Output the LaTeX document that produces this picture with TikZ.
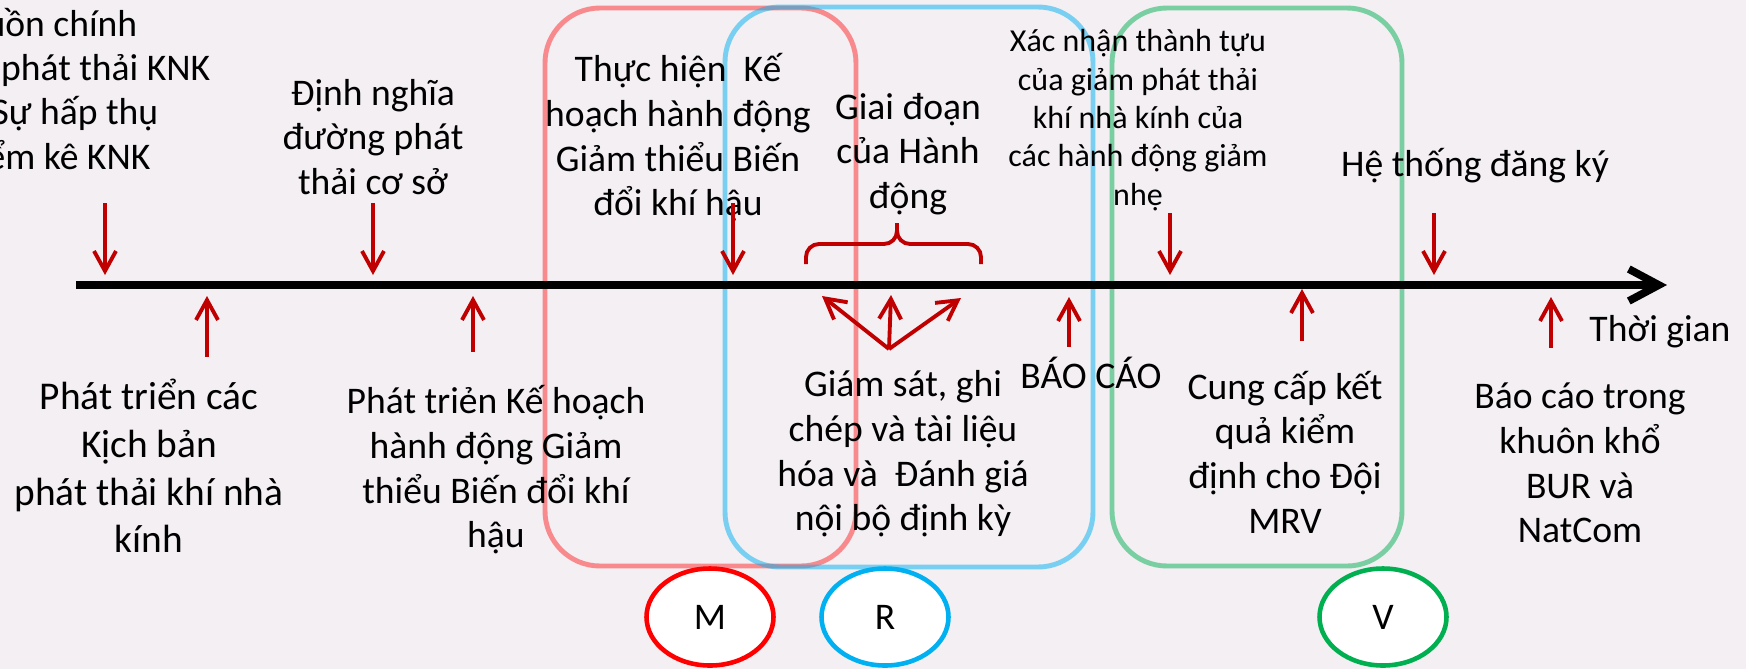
\documentclass[tikz,border=0pt]{standalone}
\usepackage{fontspec}
\setmainfont{Carlito}
\usetikzlibrary{arrows.meta,shapes.geometric}

\definecolor{fond}{RGB}{243,239,243}
\definecolor{rougef}{RGB}{192,0,0}
\definecolor{mrouge}{RGB}{255,0,0}
\definecolor{rbleu}{RGB}{0,176,240}
\definecolor{vvert}{RGB}{0,176,80}

\begin{document}
\begin{tikzpicture}[
  texte/.style={font=\fontsize{10.7}{12.7}\selectfont,align=center,inner sep=0pt},
  petit/.style={font=\fontsize{9.1}{10.9}\selectfont,align=center,inner sep=0pt},
  fleche/.style={rougef,line width=1.1pt,-{Straight Barb[length=2mm,width=2.2mm]}},
  cadre/.style={line width=1.4pt,rounded corners=5.5mm,draw opacity=0.5},
  lettre/.style={ellipse,draw,fill=white,line width=1.3pt,minimum width=1.27cm,
    minimum height=0.97cm,inner sep=0pt,font=\fontsize{10.7}{12.7}\selectfont}
]
  \useasboundingbox (0,0) rectangle (17.46,-6.69);
  \fill[fond] (0,0) rectangle (17.46,-6.69);

  % Les trois phases M, R, V
  \draw[cadre,mrouge,draw opacity=0.42] (5.45,-0.08) rectangle (8.56,-5.66);
  \draw[cadre,rbleu] (7.25,-0.07) rectangle (10.93,-5.67);
  \draw[cadre,vvert] (11.12,-0.08) rectangle (14.02,-5.66);

  % Axe du temps
  \coordinate (t0) at (0.76,-2.85);
  \coordinate (t1) at (16.67,-2.85);
  \draw[line width=2.2pt,-{Straight Barb[length=3mm,width=3.2mm]}] (t0) -- (t1);
  \node[texte] (thoigian) at (16.60,-3.32) {Thời gian};

  % Etapes au-dessus de l'axe
  \node[texte,anchor=base east] (nguon1) at (1.38,-0.36) {uồn chính};
  \node[texte,anchor=base east] (nguon2) at (2.11,-0.80) {phát thải KNK};
  \node[texte,anchor=base east] (nguon3) at (1.59,-1.24) {Sự hấp thụ};
  \node[texte,anchor=base east] (nguon4) at (1.51,-1.69) {ểm kê KNK};
  \node[texte] (dinhnghia) at (3.73,-1.37) {Định nghĩa\\đường phát\\thải cơ sở};
  \node[texte] (thuchien) at (6.78,-1.38) {Thực hiện\ \ Kế\\hoạch hành động\\Giảm thiểu Biến\\đổi khí hậu};
  \node[texte] (giaidoan) at (9.08,-1.54) {Giai đoạn\\của Hành\\động};
  \node[petit] (xacnhan) at (11.38,-1.20) {Xác nhận thành tựu\\của giảm phát thải\\khí nhà kính của\\các hành động giảm\\nhẹ};
  \node[texte] (dangky) at (14.75,-1.66) {Hệ thống đăng ký};

  % Etapes au-dessous de l'axe
  \node[texte,font=\fontsize{11.2}{13.6}\selectfont] (kichban) at (1.49,-4.66) {Phát triển các\\Kịch bản\\phát thải khí nhà\\kính};
  \node[texte] (kehoach) at (4.96,-4.70) {Phát triẻn Kế hoạch\\hành động Giảm\\thiểu Biến đổi khí\\hậu};
  \node[texte] (giamsat) at (9.03,-4.54) {Giám sát, ghi\\chép và tài liệu\\hóa và\ \ Đánh giá\\nội bộ định kỳ};
  \node[texte] (baocao) at (10.91,-3.73) {BÁO CÁO};
  \node[texte] (cungcap) at (12.85,-4.52) {Cung cấp kết\\quả kiểm\\định cho Đội\\MRV};
  \node[texte] (bur) at (15.80,-4.63) {Báo cáo trong\\khuôn khổ\\BUR và\\NatCom};

  % Flèches vers l'axe
  \foreach \nom/\x/\y in {h1/1.05/2.03, h2/3.73/2.03, h3/7.33/2.03, h4/11.70/2.13, h5/14.34/2.13}{
    \coordinate (\nom a) at (\x,-\y);
    \coordinate (\nom b) at (\x,-2.75);
    \draw[fleche] (\nom a) -- (\nom b);
  }
  \foreach \nom/\x/\y/\z in {b1/2.07/3.57/2.96, b2/4.73/3.52/2.96, b3/10.69/3.47/2.97,
      b4/13.02/3.41/2.89, b5/15.51/3.48/2.97}{
    \coordinate (\nom a) at (\x,-\y);
    \coordinate (\nom b) at (\x,-\z);
    \draw[fleche] (\nom a) -- (\nom b);
  }

  % Eventail de la phase d'action
  \coordinate (ev) at (8.89,-3.49);
  \coordinate (ev1) at (8.22,-2.96);
  \coordinate (ev2) at (8.91,-2.95);
  \coordinate (ev3) at (9.61,-2.98);
  \draw[fleche] (ev) -- (ev1);
  \draw[fleche] (ev) -- (ev2);
  \draw[fleche] (ev) -- (ev3);

  % Accolade
  \coordinate (acg) at (8.06,-2.64);
  \coordinate (acd) at (9.81,-2.64);
  \coordinate (acm) at (8.97,-2.23);
  \draw[rougef,line width=1.1pt,rounded corners=1.3mm] (acg) -- ++(0,0.20) -| (acm);
  \draw[rougef,line width=1.1pt,rounded corners=1.3mm] (acd) -- ++(0,0.20) -| (acm);

  % M, R, V
  \node[lettre,draw=mrouge] (mesure) at (7.10,-6.17) {M};
  \node[lettre,draw=rbleu] (rapport) at (8.85,-6.17) {R};
  \node[lettre,draw=vvert] (verif) at (13.83,-6.17) {V};
\end{tikzpicture}
\end{document}
